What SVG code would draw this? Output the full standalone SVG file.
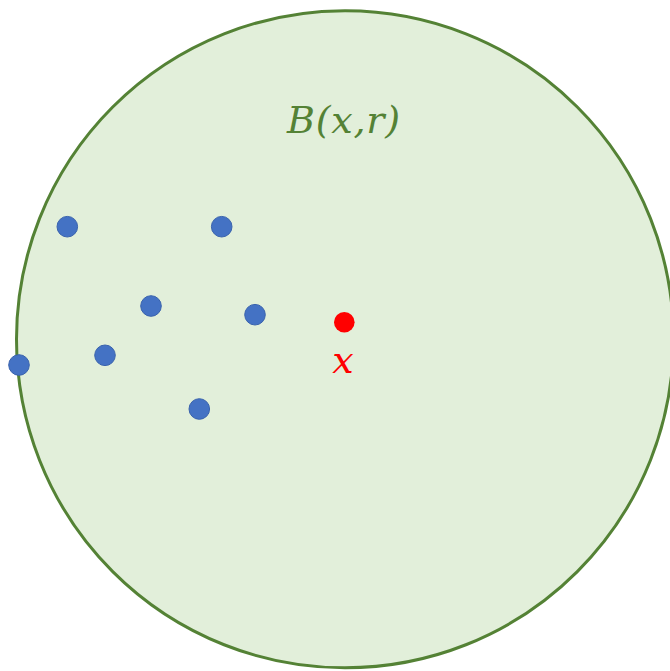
<svg xmlns="http://www.w3.org/2000/svg" width="670" height="671" viewBox="0 0 670 671">
<style>
.pt{fill:#4472C4;stroke:#3A63AD;stroke-width:1}
.math{font-family:"DejaVu Serif","Liberation Serif",serif;font-style:italic;font-size:38px}
</style>
<rect width="670" height="671" fill="#FFFFFF"/>
<g id="ball">
<circle cx="345" cy="339.3" r="328.5" fill="#E2EFDA" stroke="#548235" stroke-width="3"/>
<text class="math" x="287" y="133" fill="#548235" textLength="113" lengthAdjust="spacing">B(x,r)</text>
</g>
<g id="points">
<circle class="pt" cx="67.3" cy="226.7" r="10.3"/>
<circle class="pt" cx="221.7" cy="226.7" r="10.3"/>
<circle class="pt" cx="151" cy="306" r="10.3"/>
<circle class="pt" cx="255" cy="314.7" r="10.3"/>
<circle class="pt" cx="105" cy="355.3" r="10.3"/>
<circle class="pt" cx="19" cy="365" r="10.3"/>
<circle class="pt" cx="199.3" cy="409" r="10.3"/>
</g>
<g id="center">
<circle cx="344.3" cy="322.3" r="10.3" fill="#FF0000"/>
<text class="math" x="343" y="373" fill="#FF0000" text-anchor="middle">x</text>
</g>
<g id="connectors"/>
</svg>
